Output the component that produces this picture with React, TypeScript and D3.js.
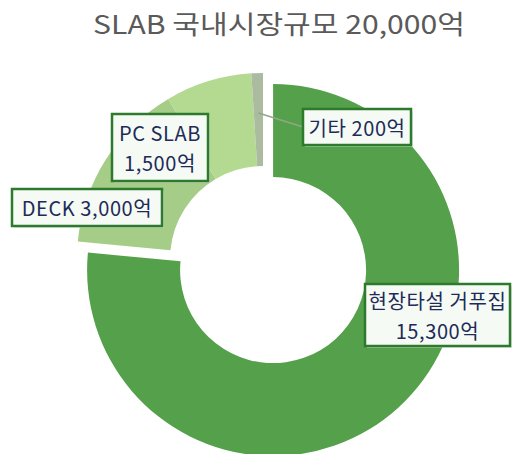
import React from "react";
import * as d3 from "d3";

const title = "SLAB 국내시장규모 20,000억";
const categories = ["현장타설 거푸집", "DECK", "PC SLAB", "기타"];
const values = [15300, 3000, 1500, 200];
const unit = "억";

// styling / layout (not data)
const colors = ["#55a04a", "#a6cd88", "#b4da92", "#aabb9f"];
const explode = [15, 0, 0, 0];
const twoLine = [true, false, true, false];
const boxes = [
  { x: 365, y: 284, w: 145, h: 62 },
  { x: 12, y: 189, w: 150, h: 37 },
  { x: 112, y: 114, w: 96, h: 67 },
  { x: 303, y: 109, w: 108, h: 36 },
];

const W = 512;
const H = 454;
const cx = 263;
const cy = 259;
const outerR = 186;
const innerR = 93;
const FONT = "'Noto Sans CJK KR', 'Noto Sans', sans-serif";

export default function App() {
  const pie = d3
    .pie<number>()
    .value((d) => d)
    .sort(null)
    .startAngle(0)
    .endAngle(2 * Math.PI);
  const arcs = pie(values);
  const arc = d3.arc<d3.PieArcDatum<number>>().innerRadius(innerR).outerRadius(outerR);
  const fmt = d3.format(",");

  const smallArc = arcs[3];
  const midA = (smallArc.startAngle + smallArc.endAngle) / 2;
  const lr = outerR - 40;
  const lx0 = cx + Math.sin(midA) * lr;
  const ly0 = cy - Math.cos(midA) * lr;

  return (
    <svg
      width={W}
      height={H}
      style={{ position: "absolute", left: 0, top: 0, background: "#fff" }}
    >
      <text
        x={279}
        y={22}
        textAnchor="middle"
        dominantBaseline="central"
        fontFamily={FONT}
        fontSize={26}
        fill="#5a5a5a"
        textLength={372}
        lengthAdjust="spacingAndGlyphs"
      >
        {title}
      </text>
      <g>
        {arcs.map((a, i) => {
          const m = (a.startAngle + a.endAngle) / 2;
          const dx = Math.sin(m) * explode[i];
          const dy = -Math.cos(m) * explode[i];
          return (
            <path
              key={i}
              d={arc(a) || ""}
              transform={`translate(${cx + dx},${cy + dy})`}
              fill={colors[i]}
            />
          );
        })}
      </g>
      <line
        x1={lx0}
        y1={ly0}
        x2={boxes[3].x}
        y2={boxes[3].y + boxes[3].h / 2}
        stroke="#8fa889"
        strokeWidth={1.5}
      />
      {categories.map((c, i) => {
        const b = boxes[i];
        const v = fmt(values[i]) + unit;
        const lines = twoLine[i] ? [c, v] : [c + " " + v];
        const lh = 30;
        const startY = b.y + b.h / 2 - ((lines.length - 1) * lh) / 2;
        return (
          <g key={c}>
            <rect x={b.x + 2} y={b.y + 2} width={b.w} height={b.h} fill="#d8d8d8" opacity={0.6} />
            <rect
              x={b.x}
              y={b.y}
              width={b.w}
              height={b.h}
              fill="#f6faf4"
              stroke="#2c7a2c"
              strokeWidth={2.5}
            />
            {lines.map((t, j) => (
              <text
                key={j}
                x={b.x + b.w / 2}
                y={startY + j * lh}
                textAnchor="middle"
                dominantBaseline="central"
                fontFamily={FONT}
                fontSize={20}
                fontWeight={400}
                letterSpacing={0.6}
                fill="#1d2b58"
              >
                {t}
              </text>
            ))}
          </g>
        );
      })}
    </svg>
  );
}
